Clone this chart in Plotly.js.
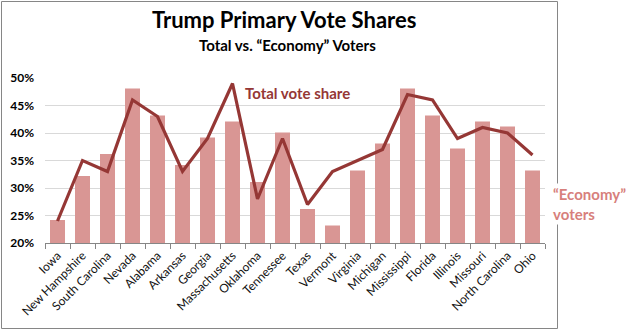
<!DOCTYPE html>
<html>
<head>
<meta charset="utf-8">
<script src="https://cdn.plot.ly/plotly-3.0.1.min.js"></script>
<style>
html,body{margin:0;padding:0;background:#fff;}
#chart{width:630px;height:330px;}
</style>
</head>
<body>
<div id="chart"></div>
<script>
const states = ["Iowa","New Hampshire","South Carolina","Nevada","Alabama","Arkansas","Georgia","Massachusetts","Oklahoma","Tennessee","Texas","Vermont","Virginia","Michigan","Mississippi","Florida","Illinois","Missouri","North Carolina","Ohio"];
const economyShare = [24.2,32.2,36.2,48.1,43.2,34.2,39.2,42.1,31.1,40.1,26.2,23.2,33.2,38.1,48.1,43.2,37.2,42.1,41.2,33.2];
const totalShare = [24,35,33,46,43,33,39,49,28,39,27,33,35,37,47,46,39,41,40,36];
const yTicks = [20,25,30,35,40,45,50];
const yTickLabels = ["20%","25%","30%","35%","40%","45%","50%"];

const FONT = "Lato, 'Open Sans', sans-serif";

// plot area geometry in pixels (for converting border shape to paper coords)
const L = 45, R = 85, T = 78, B = 87, W = 630, H = 330;
const pw = W - L - R, ph = H - T - B;
const px = x => (x - L) / pw;
const py = y => (H - B - y) / ph;

const traces = [
  {
    type: "bar",
    x: states,
    y: economyShare,
    base: 0,
    marker: {color: "#D99694"},
    hoverinfo: "x+y",
    name: "Economy voters"
  },
  {
    type: "scatter",
    mode: "lines",
    x: states,
    y: totalShare,
    line: {color: "#953735", width: 3.2},
    name: "Total vote share"
  }
];

const layout = {
  width: W, height: H,
  margin: {l: L, r: R, t: T, b: B},
  paper_bgcolor: "#fff",
  plot_bgcolor: "#fff",
  showlegend: false,
  bargap: 0.4,
  font: {family: FONT, color: "#000"},
  xaxis: {
    type: "category",
    tickangle: -45,
    tickfont: {family: FONT, size: 12, color: "#111"},
    showline: true,
    linecolor: "#868686",
    linewidth: 1,
    ticks: "outside",
    tickson: "boundaries",
    ticklen: 5,
    tickcolor: "#868686",
    showgrid: false,
    fixedrange: true
  },
  yaxis: {
    range: [20, 50],
    tickvals: yTicks,
    ticktext: yTickLabels,
    tickfont: {family: FONT, size: 12, color: "#000", weight: "bold"},
    showgrid: true,
    gridcolor: "#D9D9D9",
    gridwidth: 1,
    zeroline: false,
    showline: false,
    ticks: "",
    ticklabelstandoff: 10,
    fixedrange: true
  },
  shapes: [
    {
      type: "rect", xref: "paper", yref: "paper",
      x0: px(1.5), x1: px(557.5), y0: py(328.5), y1: py(1.5),
      line: {color: "#868686", width: 1},
      fillcolor: "rgba(0,0,0,0)",
      layer: "below"
    }
  ],
  annotations: [
    {
      text: "<b>Trump Primary Vote Shares</b>",
      xref: "paper", yref: "paper",
      x: px(284), y: py(20), xanchor: "center", yanchor: "middle",
      showarrow: false,
      font: {family: FONT, size: 22, color: "#000"}
    },
    {
      text: "<b>Total vs. “Economy” Voters</b>",
      xref: "paper", yref: "paper",
      x: px(287), y: py(45), xanchor: "center", yanchor: "middle",
      showarrow: false,
      font: {family: FONT, size: 15, color: "#000"}
    },
    {
      text: "<b>Total vote share</b>",
      xref: "paper", yref: "paper",
      x: px(243), y: py(93), xanchor: "left", yanchor: "middle",
      showarrow: false,
      font: {family: FONT, size: 15, color: "#953735"}
    },
    {
      text: "<b>“Economy”<br>voters</b>",
      xref: "paper", yref: "paper",
      x: px(551), y: py(204), xanchor: "left", yanchor: "middle",
      align: "left",
      showarrow: false,
      bgcolor: "#fff",
      borderpad: 1,
      font: {family: FONT, size: 15, color: "#D77F7C"}
    }
  ]
};

Plotly.newPlot("chart", traces, layout, {displayModeBar: false, staticPlot: true});
</script>
</body>
</html>
